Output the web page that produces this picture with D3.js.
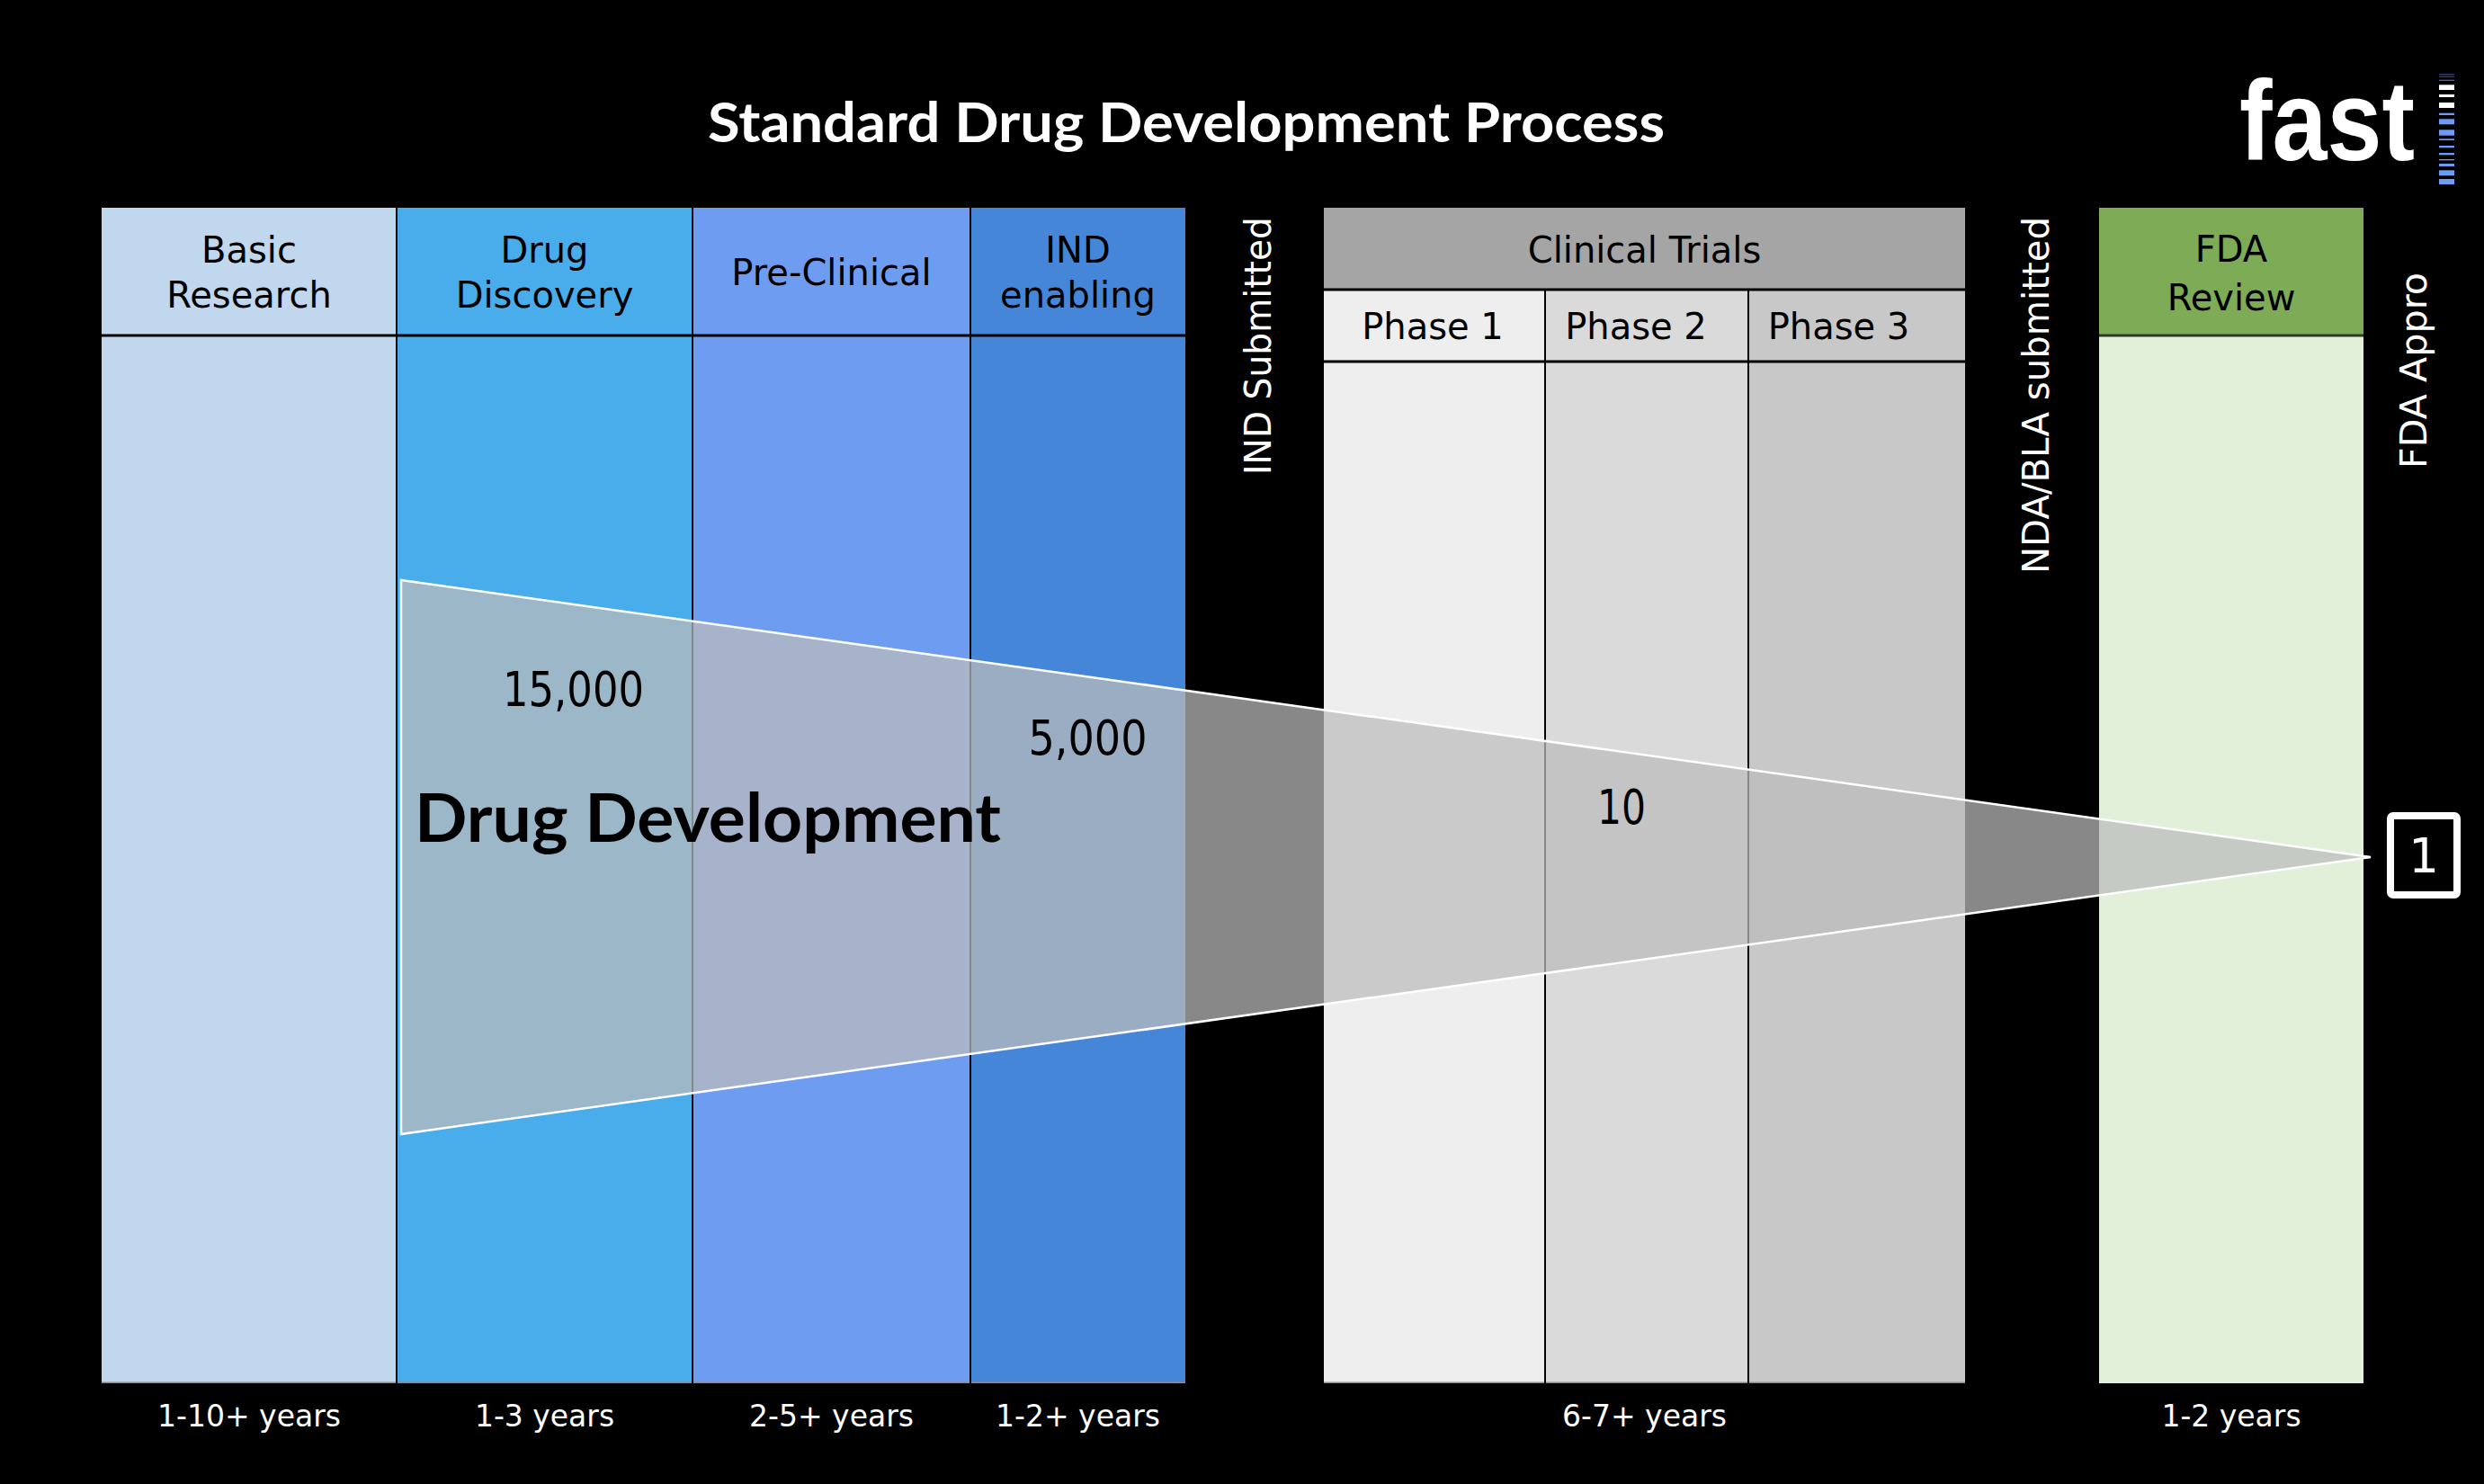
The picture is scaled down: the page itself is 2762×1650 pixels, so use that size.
<!DOCTYPE html>
<html><head><meta charset="utf-8">
<script src="https://cdn.jsdelivr.net/npm/d3@7"></script>
<style>html,body{margin:0;padding:0;background:#000;overflow:hidden}</style>
</head><body>
<svg id="chart" width="2762" height="1650"></svg>
<script>
// ================= DATA =================
const chartTitle = "Standard Drug Development Process";
const discoveryStages = ["Basic Research", "Drug Discovery", "Pre-Clinical", "IND enabling"];
const discoveryLabels = [["Basic", "Research"], ["Drug", "Discovery"], ["Pre-Clinical"], ["IND", "enabling"]];
const clinicalGroup = "Clinical Trials";
const clinicalPhases = ["Phase 1", "Phase 2", "Phase 3"];
const reviewStage = "FDA Review";
const reviewLabels = ["FDA", "Review"];
const durations = ["1-10+ years", "1-3 years", "2-5+ years", "1-2+ years", "6-7+ years", "1-2 years"];
const milestones = ["IND Submitted", "NDA/BLA submitted", "FDA Appro"];
const funnelTitle = "Drug Development";
const candidateCounts = [15000, 5000, 10, 1];
const countStage = ["Drug Discovery", "IND enabling", "Phase 2", "FDA Appro"];

// ================= LAYOUT / STYLE =================
const W = 2762, H = 1650;
const slotKeys = ["Basic Research", "Drug Discovery", "Pre-Clinical", "IND enabling", "IND Submitted",
  "Phase 1", "Phase 2", "Phase 3", "NDA/BLA submitted", "FDA Review", "FDA Appro"];
const slotUnits = [32.8, 32.9, 30.9, 23.9, 15.4, 24.6, 22.6, 24.1, 14.9, 29.4, 10.6];
const edges = [0];
slotUnits.forEach(u => edges.push(edges[edges.length - 1] + u));
const x = d3.scaleLinear().domain([0, edges[10]]).range([113, 113 + edges[10] * 10]);
const slot = k => { const i = slotKeys.indexOf(k); return { x0: x(edges[i]), x1: x(edges[i + 1]), cx: (x(edges[i]) + x(edges[i + 1])) / 2 }; };

const rows = { top: 231, groupHead: 322, phaseHead: 402, head: 373, bottom: 1538, years: 1586 };
const stageColors = { "Basic Research": "#C0D7EE", "Drug Discovery": "#48ADEA", "Pre-Clinical": "#6E9CF1", "IND enabling": "#4586D8" };
const phaseColors = { "Phase 1": "#EEEEEE", "Phase 2": "#DADADA", "Phase 3": "#C8C8C8" };
const phaseLabelShift = { "Phase 1": -2, "Phase 2": -12, "Phase 3": -20 };
const FONT = "'DejaVu Sans', sans-serif";
const BOLD = "Lato, 'Open Sans', sans-serif";

const svg = d3.select("#chart");
svg.append("rect").attr("width", W).attr("height", H).attr("fill", "#000");

// Title
svg.append("text").attr("x", 1319).attr("y", 158).attr("text-anchor", "middle")
  .attr("font-family", BOLD).attr("font-weight", 700).attr("font-size", 62)
  .attr("textLength", 1064).attr("lengthAdjust", "spacingAndGlyphs")
  .attr("fill", "#fff").text(chartTitle);

// Logo
const logo = svg.append("g");
logo.append("text").attr("x", 2490).attr("y", 178)
  .attr("font-family", "'Liberation Sans', Arial, sans-serif").attr("font-weight", 700)
  .attr("font-size", 126).attr("textLength", 195).attr("lengthAdjust", "spacingAndGlyphs")
  .attr("fill", "#fff").text("fast");
const logoBars = [[82.3,1,"#3b5b99"],[84.7,1,"#3b5b99"],[88.7,1.2,"#4a6fb8"],[94.3,5.7,"#fff"],[105,3,"#fff"],[114,6,"#fff"],
  [125.7,2.3,"#6d9cf5"],[132.3,6,"#6d9cf5"],[144.3,6.4,"#6d9cf5"],[154.3,1.7,"#6d9cf5"],[162,2.3,"#6d9cf5"],[170,2.3,"#6d9cf5"],
  [177,1.3,"#6d9cf5"],[182,3,"#6d9cf5"],[189.3,6,"#6d9cf5"],[199,6,"#6d9cf5"]];
logo.selectAll("rect.bar").data(logoBars).join("rect").attr("class", "bar")
  .attr("x", 2712).attr("width", 17).attr("y", d => d[0]).attr("height", d => d[1]).attr("fill", d => d[2]);

// ---- Discovery columns ----
const cols = svg.append("g");
discoveryStages.forEach(s => {
  const b = slot(s);
  cols.append("rect").attr("x", b.x0).attr("y", rows.top).attr("width", b.x1 - b.x0).attr("height", rows.bottom - rows.top).attr("fill", stageColors[s]);
});
{
  const a = slot(discoveryStages[0]).x0, b = slot(discoveryStages[3]).x1;
  cols.append("line").attr("x1", a).attr("x2", b).attr("y1", rows.head).attr("y2", rows.head).attr("stroke", "#000").attr("stroke-width", 3);
  cols.append("line").attr("x1", a).attr("x2", b).attr("y1", rows.bottom - 0.75).attr("y2", rows.bottom - 0.75).attr("stroke", "#8a8a8a").attr("stroke-width", 1.5);
  discoveryStages.slice(1).forEach(s => {
    const xx = slot(s).x0;
    cols.append("line").attr("x1", xx).attr("x2", xx).attr("y1", rows.top).attr("y2", rows.bottom).attr("stroke", "#000").attr("stroke-width", 2);
  });
}
// ---- Clinical block ----
{
  const a = slot(clinicalPhases[0]).x0, b = slot(clinicalPhases[2]).x1;
  clinicalPhases.forEach(p => {
    const s = slot(p);
    cols.append("rect").attr("x", s.x0).attr("y", rows.groupHead).attr("width", s.x1 - s.x0).attr("height", rows.bottom - rows.groupHead).attr("fill", phaseColors[p]);
  });
  cols.append("rect").attr("x", a).attr("y", rows.top).attr("width", b - a).attr("height", rows.groupHead - rows.top).attr("fill", "#A5A5A5");
  [rows.groupHead, rows.phaseHead].forEach(yy =>
    cols.append("line").attr("x1", a).attr("x2", b).attr("y1", yy).attr("y2", yy).attr("stroke", "#000").attr("stroke-width", 3));
  cols.append("line").attr("x1", a).attr("x2", b).attr("y1", rows.bottom - 0.75).attr("y2", rows.bottom - 0.75).attr("stroke", "#8a8a8a").attr("stroke-width", 1.5);
  clinicalPhases.slice(1).forEach(p => {
    const xx = slot(p).x0;
    cols.append("line").attr("x1", xx).attr("x2", xx).attr("y1", rows.groupHead).attr("y2", rows.bottom).attr("stroke", "#000").attr("stroke-width", 2);
  });
}
// ---- FDA Review ----
{
  const s = slot(reviewStage);
  cols.append("rect").attr("x", s.x0).attr("y", rows.top).attr("width", s.x1 - s.x0).attr("height", rows.bottom - rows.top).attr("fill", "#E2EFD9");
  cols.append("rect").attr("x", s.x0).attr("y", rows.top).attr("width", s.x1 - s.x0).attr("height", rows.head - rows.top).attr("fill", "#7EAB55");
  cols.append("line").attr("x1", s.x0).attr("x2", s.x1).attr("y1", rows.head).attr("y2", rows.head).attr("stroke", "#2f3a26").attr("stroke-width", 3);
}

// ---- Funnel ----
const fx0 = slot("Drug Discovery").x0 + 5, fx1 = slot(reviewStage).x1 + 8;
const fyc = 953, fhh = 308;
const funnelPts = [[fx0, fyc - fhh], [fx1, fyc], [fx0, fyc + fhh]];
svg.append("path").attr("d", d3.line()(funnelPts) + "Z")
  .attr("fill", "#BCBCBC").attr("fill-opacity", 0.725)
  .attr("stroke", "#fff").attr("stroke-width", 2.5).attr("stroke-linejoin", "miter");

// ---- Header text ----
const txt = svg.append("g").attr("font-family", FONT);
function multiLine(lines, cx, yc, lh, size, fill) {
  const t = txt.append("text").attr("x", cx).attr("text-anchor", "middle").attr("font-size", size).attr("fill", fill);
  const y0 = yc - (lines.length - 1) * lh / 2 + size * 0.38;
  lines.forEach((l, i) => t.append("tspan").attr("x", cx).attr("y", y0 + i * lh).text(l));
}
const headC = (rows.top + rows.head) / 2;
discoveryStages.forEach((s, i) => multiLine(discoveryLabels[i], slot(s).cx, headC, 50, 40, "#000"));
{
  const a = slot(clinicalPhases[0]).x0, b = slot(clinicalPhases[2]).x1;
  multiLine([clinicalGroup], (a + b) / 2, (rows.top + rows.groupHead) / 2, 50, 40, "#000");
  clinicalPhases.forEach(p => multiLine([p], slot(p).cx + phaseLabelShift[p], (rows.groupHead + rows.phaseHead) / 2, 50, 40, "#000"));
}
multiLine(reviewLabels, slot(reviewStage).cx, headC + 1, 54, 40, "#000");

// ---- Duration labels ----
const durCenters = [...discoveryStages.map(s => slot(s).cx),
  (slot(clinicalPhases[0]).x0 + slot(clinicalPhases[2]).x1) / 2, slot(reviewStage).cx];
txt.selectAll("text.dur").data(durations).join("text").attr("class", "dur")
  .attr("x", (d, i) => durCenters[i]).attr("y", rows.years).attr("text-anchor", "middle")
  .attr("font-size", 33).attr("fill", "#fff").text(d => d);

// ---- Milestone vertical text ----
const msLayout = [{ top: 241, len: 287, dx: 18 }, { top: 241, len: 397, dx: 18 }, { top: 303, len: 218, dx: 17 }];
milestones.forEach((m, i) => {
  const L = msLayout[i];
  txt.append("text").attr("transform", `translate(${slot(m).cx + L.dx},${L.top}) rotate(-90)`)
    .attr("text-anchor", "end").attr("font-size", 41).attr("fill", "#fff")
    .attr("textLength", L.len).attr("lengthAdjust", "spacingAndGlyphs").text(m);
});

// ---- Funnel labels ----
const fmt = d3.format(",");
const countLayout = [{ dx: 32, y: 785, len: 157 }, { dx: 11, y: 839, len: 132 }, { dx: -28, y: 916, len: 54 }, { dx: 14, y: 970, len: 0 }];
candidateCounts.forEach((c, i) => {
  const L = countLayout[i];
  const cx = slot(countStage[i]).cx + L.dx;
  const last = i === candidateCounts.length - 1;
  if (last) {
    txt.append("rect").attr("x", cx - 37).attr("y", 907).attr("width", 74).attr("height", 88)
      .attr("rx", 3).attr("fill", "#000").attr("stroke", "#fff").attr("stroke-width", 8);
  }
  const t = txt.append("text").attr("x", cx).attr("y", L.y).attr("text-anchor", "middle")
    .attr("font-size", 53).attr("fill", last ? "#fff" : "#000").text(fmt(c));
  if (L.len) t.attr("textLength", L.len).attr("lengthAdjust", "spacingAndGlyphs");
});
txt.append("text").attr("x", 461).attr("y", 936).attr("font-family", BOLD).attr("font-weight", 700)
  .attr("font-size", 74).attr("textLength", 652).attr("lengthAdjust", "spacingAndGlyphs")
  .attr("fill", "#000").text(funnelTitle);
</script>
</body></html>
